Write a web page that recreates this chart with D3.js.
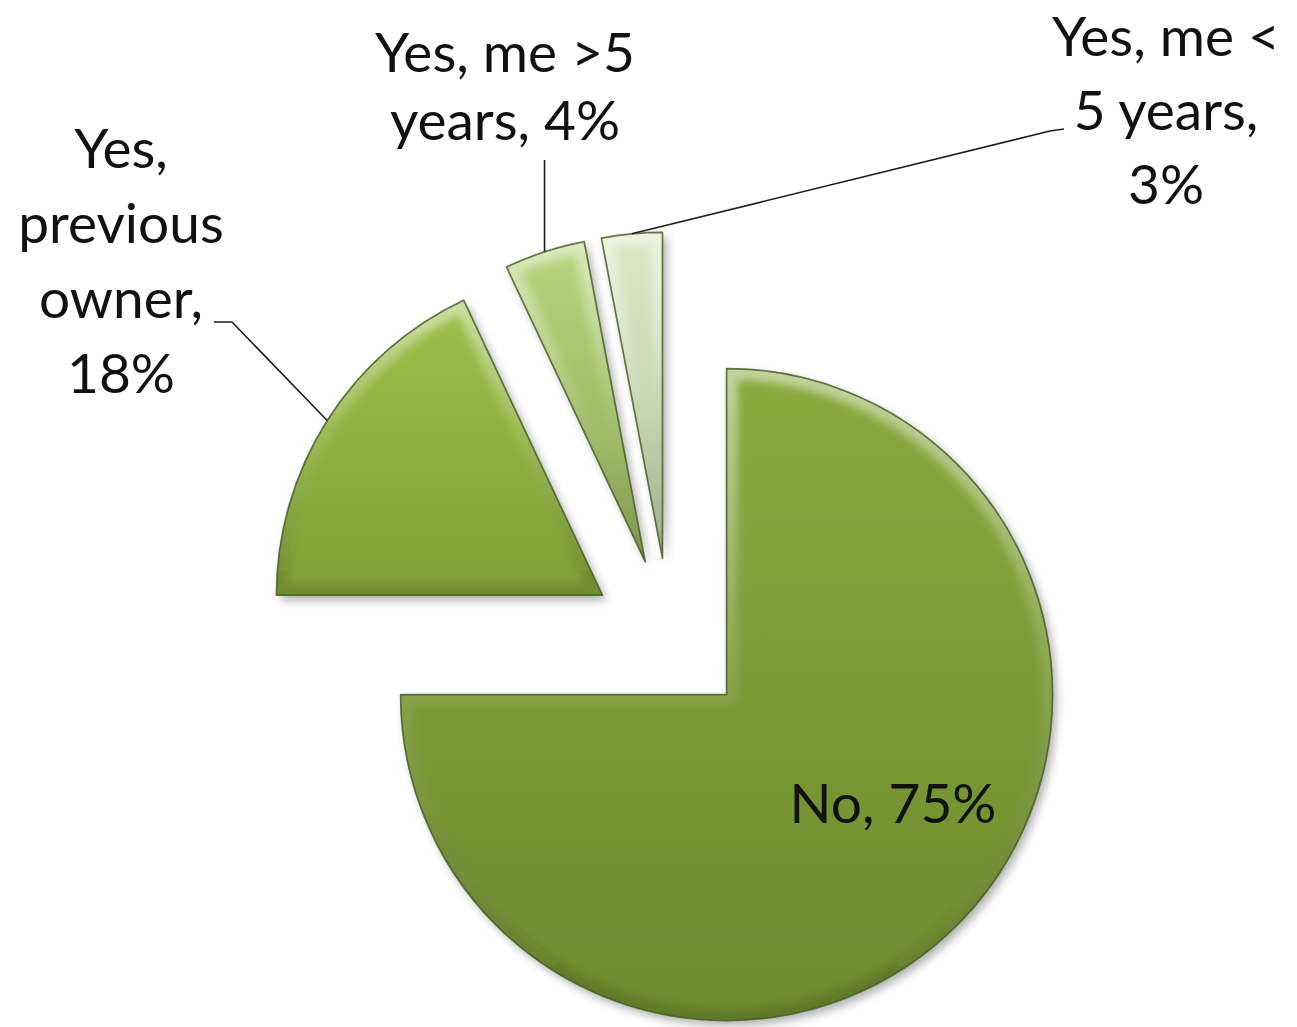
<!DOCTYPE html>
<html>
<head>
<meta charset="utf-8">
<script src="https://cdn.jsdelivr.net/npm/d3@7"></script>
<style>
  html, body { margin: 0; padding: 0; background: #ffffff; }
  svg { display: block; }
</style>
</head>
<body>
<svg id="chart" width="1297" height="1027"></svg>
<script>
// Survey answers and their shares (percent)
const categories = ["No", "Yes, previous owner", "Yes, me >5 years", "Yes, me < 5 years"];
const shares = [75, 18, 4, 3];
// Label text, broken into lines; {v} is replaced by the slice's share
const labelLines = [
  ["No, {v}%"],
  ["Yes,", "previous", "owner,", "{v}%"],
  ["Yes, me >5", "years, {v}%"],
  ["Yes, me <", "5 years,", "{v}%"]
];
// Slice fills: top and bottom of each vertical gradient
const sliceTop = ["#88aa3e", "#9cc149", "#b6d67e", "#dce9c8"];
const sliceBottom = ["#6c8b2e", "#7e9f36", "#8cab52", "#b3c49c"];

// Layout
const W = 1297, H = 1027;
const cx = 670, cy = 638, radius = 326, explode = 80;
const fontSize = 55;
const labelLayout = [
  { x: 893, y: 823, gap: 74, leader: null },
  { x: 121, y: 168, gap: 75, leader: [[232, 322], [214, 322]] },
  { x: 505, y: 72, gap: 68, leader: "up", top: 160 },
  { x: 1166, y: 56, gap: 74, leader: [[1050, 131], [1064, 129]] }
];

const svg = d3.select("#chart");
const defs = svg.append("defs");

// Soft drop shadow beneath the slices
const shadow = defs.append("filter").attr("id", "shadow")
  .attr("x", "-20%").attr("y", "-20%").attr("width", "140%").attr("height", "140%");
shadow.append("feGaussianBlur").attr("in", "SourceAlpha").attr("stdDeviation", 5).attr("result", "b");
shadow.append("feOffset").attr("in", "b").attr("dx", 4).attr("dy", 5).attr("result", "o");
shadow.append("feComponentTransfer").attr("in", "o").attr("result", "s")
  .append("feFuncA").attr("type", "linear").attr("slope", 0.32);
const merge = shadow.append("feMerge");
merge.append("feMergeNode").attr("in", "s");
merge.append("feMergeNode").attr("in", "SourceGraphic");

// Blur for the bevelled rim
defs.append("filter").attr("id", "soft")
  .append("feGaussianBlur").attr("stdDeviation", 4);

// Rim gradient: light near the top, slightly dark towards the bottom
const rim = defs.append("linearGradient").attr("id", "rim")
  .attr("x1", 0).attr("y1", 0).attr("x2", 0).attr("y2", 1);
rim.append("stop").attr("offset", "0%").attr("stop-color", "#ffffff").attr("stop-opacity", 0.5);
rim.append("stop").attr("offset", "45%").attr("stop-color", "#ffffff").attr("stop-opacity", 0.12);
rim.append("stop").attr("offset", "100%").attr("stop-color", "#000000").attr("stop-opacity", 0.12);

shares.forEach((v, i) => {
  const g = defs.append("linearGradient").attr("id", "fill" + i)
    .attr("x1", 0).attr("y1", 0).attr("x2", 0).attr("y2", 1);
  g.append("stop").attr("offset", "0%").attr("stop-color", sliceTop[i]);
  g.append("stop").attr("offset", "100%").attr("stop-color", sliceBottom[i]);
});

const pie = d3.pie().sort(null).value(d => d);
const arcs = pie(shares);
const arc = d3.arc().innerRadius(0).outerRadius(radius);

// Offset of each exploded slice along its middle angle
function offset(d) {
  const a = (d.startAngle + d.endAngle) / 2;
  return [cx + explode * Math.sin(a), cy - explode * Math.cos(a)];
}
// Point on the outer arc at the middle angle, in page coordinates
function rimPoint(d) {
  const a = (d.startAngle + d.endAngle) / 2;
  const [ox, oy] = offset(d);
  return [ox + radius * Math.sin(a), oy - radius * Math.cos(a)];
}

const slices = svg.append("g").attr("class", "slices");
arcs.forEach((d, i) => {
  const [ox, oy] = offset(d);
  const path = arc(d);
  const g = slices.append("g").attr("transform", `translate(${ox},${oy})`);
  defs.append("clipPath").attr("id", "clip" + i).append("path").attr("d", path);
  g.append("path").attr("d", path).attr("fill", `url(#fill${i})`).attr("filter", "url(#shadow)");
  g.append("g").attr("clip-path", `url(#clip${i})`)
    .append("path").attr("d", path)
    .attr("fill", "none").attr("stroke", "url(#rim)").attr("stroke-width", 22)
    .attr("stroke-linejoin", "round").attr("filter", "url(#soft)");
  g.append("path").attr("d", path).attr("fill", "none")
    .attr("stroke", "#44561f").attr("stroke-opacity", 0.8).attr("stroke-width", 1.7)
    .attr("stroke-linejoin", "round");
});

// Leader lines
const leaders = svg.append("g").attr("class", "leaders")
  .attr("fill", "none").attr("stroke", "#1e1e1e").attr("stroke-width", 1.6);
arcs.forEach((d, i) => {
  const L = labelLayout[i];
  if (!L.leader) return;
  const p0 = rimPoint(d);
  const pts = L.leader === "up" ? [p0, [p0[0], L.top]] : [p0, ...L.leader];
  leaders.append("path").attr("d", d3.line()(pts));
});

// Labels
const labels = svg.append("g").attr("class", "labels")
  .attr("font-family", "Lato, 'Open Sans', sans-serif")
  .attr("font-size", fontSize).attr("fill", "#111111").attr("text-anchor", "middle");
labelLines.forEach((lines, i) => {
  const L = labelLayout[i];
  const t = labels.append("text").attr("x", L.x).attr("y", L.y);
  lines.forEach((s, k) => {
    t.append("tspan").attr("x", L.x).attr("y", L.y + k * L.gap)
      .text(s.replace("{v}", shares[i]));
  });
});
</script>
</body>
</html>
